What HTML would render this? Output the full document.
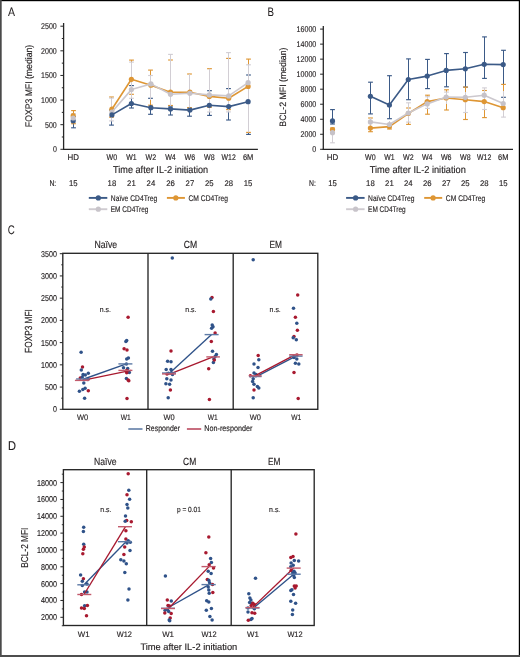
<!DOCTYPE html>
<html><head><meta charset="utf-8"><style>
html,body{margin:0;padding:0;background:#fff;}
svg{display:block;font-family:"Liberation Sans", sans-serif;will-change:transform;text-rendering:geometricPrecision;}
</style></head><body>
<svg width="520" height="657" viewBox="0 0 520 657">
<rect x="0" y="0" width="520" height="657" fill="#ffffff"/>
<text x="8.00" y="16.10" font-size="12.2" text-anchor="start" fill="#231f20" stroke="#231f20" stroke-width="0.05" textLength="7.0" lengthAdjust="spacingAndGlyphs">A</text>
<text x="267.60" y="15.90" font-size="12.4" text-anchor="start" fill="#231f20" stroke="#231f20" stroke-width="0.05" textLength="6.5" lengthAdjust="spacingAndGlyphs">B</text>
<text x="7.80" y="233.50" font-size="12.5" text-anchor="start" fill="#231f20" stroke="#231f20" stroke-width="0.05" textLength="7.0" lengthAdjust="spacingAndGlyphs">C</text>
<text x="8.00" y="449.70" font-size="12.6" text-anchor="start" fill="#231f20" stroke="#231f20" stroke-width="0.15" textLength="8.0" lengthAdjust="spacingAndGlyphs">D</text>
<line x1="73.50" y1="116.50" x2="73.50" y2="120.80" stroke="#3b5a87" stroke-width="1.05"/>
<line x1="71.10" y1="116.50" x2="75.90" y2="116.50" stroke="#3b5a87" stroke-width="1.15"/>
<line x1="73.50" y1="120.80" x2="73.50" y2="127.80" stroke="#3b5a87" stroke-width="1.05"/>
<line x1="71.10" y1="127.80" x2="75.90" y2="127.80" stroke="#3b5a87" stroke-width="1.15"/>
<line x1="111.50" y1="110.00" x2="111.50" y2="114.90" stroke="#3b5a87" stroke-width="1.05"/>
<line x1="109.10" y1="110.00" x2="113.90" y2="110.00" stroke="#3b5a87" stroke-width="1.15"/>
<line x1="111.50" y1="114.90" x2="111.50" y2="125.10" stroke="#3b5a87" stroke-width="1.05"/>
<line x1="109.10" y1="125.10" x2="113.90" y2="125.10" stroke="#3b5a87" stroke-width="1.15"/>
<line x1="131.50" y1="85.60" x2="131.50" y2="103.50" stroke="#3b5a87" stroke-width="1.05"/>
<line x1="129.10" y1="85.60" x2="133.90" y2="85.60" stroke="#3b5a87" stroke-width="1.15"/>
<line x1="131.50" y1="103.50" x2="131.50" y2="108.00" stroke="#3b5a87" stroke-width="1.05"/>
<line x1="129.10" y1="108.00" x2="133.90" y2="108.00" stroke="#3b5a87" stroke-width="1.15"/>
<line x1="150.50" y1="98.30" x2="150.50" y2="107.70" stroke="#3b5a87" stroke-width="1.05"/>
<line x1="148.10" y1="98.30" x2="152.90" y2="98.30" stroke="#3b5a87" stroke-width="1.15"/>
<line x1="150.50" y1="107.70" x2="150.50" y2="114.30" stroke="#3b5a87" stroke-width="1.05"/>
<line x1="148.10" y1="114.30" x2="152.90" y2="114.30" stroke="#3b5a87" stroke-width="1.15"/>
<line x1="170.50" y1="106.00" x2="170.50" y2="108.90" stroke="#3b5a87" stroke-width="1.05"/>
<line x1="168.10" y1="106.00" x2="172.90" y2="106.00" stroke="#3b5a87" stroke-width="1.15"/>
<line x1="170.50" y1="108.90" x2="170.50" y2="115.00" stroke="#3b5a87" stroke-width="1.05"/>
<line x1="168.10" y1="115.00" x2="172.90" y2="115.00" stroke="#3b5a87" stroke-width="1.15"/>
<line x1="189.50" y1="108.00" x2="189.50" y2="110.10" stroke="#3b5a87" stroke-width="1.05"/>
<line x1="187.10" y1="108.00" x2="191.90" y2="108.00" stroke="#3b5a87" stroke-width="1.15"/>
<line x1="189.50" y1="110.10" x2="189.50" y2="116.20" stroke="#3b5a87" stroke-width="1.05"/>
<line x1="187.10" y1="116.20" x2="191.90" y2="116.20" stroke="#3b5a87" stroke-width="1.15"/>
<line x1="209.50" y1="90.70" x2="209.50" y2="105.30" stroke="#3b5a87" stroke-width="1.05"/>
<line x1="207.10" y1="90.70" x2="211.90" y2="90.70" stroke="#3b5a87" stroke-width="1.15"/>
<line x1="209.50" y1="105.30" x2="209.50" y2="115.40" stroke="#3b5a87" stroke-width="1.05"/>
<line x1="207.10" y1="115.40" x2="211.90" y2="115.40" stroke="#3b5a87" stroke-width="1.15"/>
<line x1="228.50" y1="88.60" x2="228.50" y2="106.60" stroke="#3b5a87" stroke-width="1.05"/>
<line x1="226.10" y1="88.60" x2="230.90" y2="88.60" stroke="#3b5a87" stroke-width="1.15"/>
<line x1="228.50" y1="106.60" x2="228.50" y2="120.00" stroke="#3b5a87" stroke-width="1.05"/>
<line x1="226.10" y1="120.00" x2="230.90" y2="120.00" stroke="#3b5a87" stroke-width="1.15"/>
<line x1="248.50" y1="75.00" x2="248.50" y2="101.70" stroke="#3b5a87" stroke-width="1.05"/>
<line x1="246.10" y1="75.00" x2="250.90" y2="75.00" stroke="#3b5a87" stroke-width="1.15"/>
<line x1="248.50" y1="101.70" x2="248.50" y2="134.40" stroke="#3b5a87" stroke-width="1.05"/>
<line x1="246.10" y1="134.40" x2="250.90" y2="134.40" stroke="#3b5a87" stroke-width="1.15"/>
<line x1="73.50" y1="110.60" x2="73.50" y2="115.70" stroke="#de9634" stroke-width="1.05"/>
<line x1="71.10" y1="110.60" x2="75.90" y2="110.60" stroke="#de9634" stroke-width="1.15"/>
<line x1="73.50" y1="115.70" x2="73.50" y2="123.70" stroke="#de9634" stroke-width="1.05"/>
<line x1="71.10" y1="123.70" x2="75.90" y2="123.70" stroke="#de9634" stroke-width="1.15"/>
<line x1="111.50" y1="97.00" x2="111.50" y2="109.20" stroke="#de9634" stroke-width="1.05"/>
<line x1="109.10" y1="97.00" x2="113.90" y2="97.00" stroke="#de9634" stroke-width="1.15"/>
<line x1="111.50" y1="109.20" x2="111.50" y2="117.20" stroke="#de9634" stroke-width="1.05"/>
<line x1="109.10" y1="117.20" x2="113.90" y2="117.20" stroke="#de9634" stroke-width="1.15"/>
<line x1="131.50" y1="60.10" x2="131.50" y2="79.30" stroke="#de9634" stroke-width="1.05"/>
<line x1="129.10" y1="60.10" x2="133.90" y2="60.10" stroke="#de9634" stroke-width="1.15"/>
<line x1="131.50" y1="79.30" x2="131.50" y2="94.30" stroke="#de9634" stroke-width="1.05"/>
<line x1="129.10" y1="94.30" x2="133.90" y2="94.30" stroke="#de9634" stroke-width="1.15"/>
<line x1="150.50" y1="70.10" x2="150.50" y2="85.20" stroke="#de9634" stroke-width="1.05"/>
<line x1="148.10" y1="70.10" x2="152.90" y2="70.10" stroke="#de9634" stroke-width="1.15"/>
<line x1="150.50" y1="85.20" x2="150.50" y2="105.20" stroke="#de9634" stroke-width="1.05"/>
<line x1="148.10" y1="105.20" x2="152.90" y2="105.20" stroke="#de9634" stroke-width="1.15"/>
<line x1="170.50" y1="60.00" x2="170.50" y2="92.20" stroke="#de9634" stroke-width="1.05"/>
<line x1="168.10" y1="60.00" x2="172.90" y2="60.00" stroke="#de9634" stroke-width="1.15"/>
<line x1="170.50" y1="92.20" x2="170.50" y2="105.50" stroke="#de9634" stroke-width="1.05"/>
<line x1="168.10" y1="105.50" x2="172.90" y2="105.50" stroke="#de9634" stroke-width="1.15"/>
<line x1="189.50" y1="74.00" x2="189.50" y2="92.20" stroke="#de9634" stroke-width="1.05"/>
<line x1="187.10" y1="74.00" x2="191.90" y2="74.00" stroke="#de9634" stroke-width="1.15"/>
<line x1="189.50" y1="92.20" x2="189.50" y2="107.70" stroke="#de9634" stroke-width="1.05"/>
<line x1="187.10" y1="107.70" x2="191.90" y2="107.70" stroke="#de9634" stroke-width="1.15"/>
<line x1="209.50" y1="68.70" x2="209.50" y2="96.40" stroke="#de9634" stroke-width="1.05"/>
<line x1="207.10" y1="68.70" x2="211.90" y2="68.70" stroke="#de9634" stroke-width="1.15"/>
<line x1="209.50" y1="96.40" x2="209.50" y2="107.30" stroke="#de9634" stroke-width="1.05"/>
<line x1="207.10" y1="107.30" x2="211.90" y2="107.30" stroke="#de9634" stroke-width="1.15"/>
<line x1="228.50" y1="58.40" x2="228.50" y2="98.20" stroke="#de9634" stroke-width="1.05"/>
<line x1="226.10" y1="58.40" x2="230.90" y2="58.40" stroke="#de9634" stroke-width="1.15"/>
<line x1="228.50" y1="98.20" x2="228.50" y2="109.60" stroke="#de9634" stroke-width="1.05"/>
<line x1="226.10" y1="109.60" x2="230.90" y2="109.60" stroke="#de9634" stroke-width="1.15"/>
<line x1="248.50" y1="59.10" x2="248.50" y2="86.40" stroke="#de9634" stroke-width="1.05"/>
<line x1="246.10" y1="59.10" x2="250.90" y2="59.10" stroke="#de9634" stroke-width="1.15"/>
<line x1="248.50" y1="86.40" x2="248.50" y2="132.40" stroke="#de9634" stroke-width="1.05"/>
<line x1="246.10" y1="132.40" x2="250.90" y2="132.40" stroke="#de9634" stroke-width="1.15"/>
<line x1="73.50" y1="113.70" x2="73.50" y2="118.00" stroke="#d2ced4" stroke-width="1.05"/>
<line x1="71.10" y1="113.70" x2="75.90" y2="113.70" stroke="#d2ced4" stroke-width="1.15"/>
<line x1="73.50" y1="118.00" x2="73.50" y2="122.50" stroke="#d2ced4" stroke-width="1.05"/>
<line x1="71.10" y1="122.50" x2="75.90" y2="122.50" stroke="#d2ced4" stroke-width="1.15"/>
<line x1="111.50" y1="98.10" x2="111.50" y2="112.00" stroke="#d2ced4" stroke-width="1.05"/>
<line x1="109.10" y1="98.10" x2="113.90" y2="98.10" stroke="#d2ced4" stroke-width="1.15"/>
<line x1="111.50" y1="112.00" x2="111.50" y2="120.90" stroke="#d2ced4" stroke-width="1.05"/>
<line x1="109.10" y1="120.90" x2="113.90" y2="120.90" stroke="#d2ced4" stroke-width="1.15"/>
<line x1="131.50" y1="62.10" x2="131.50" y2="89.60" stroke="#d2ced4" stroke-width="1.05"/>
<line x1="129.10" y1="62.10" x2="133.90" y2="62.10" stroke="#d2ced4" stroke-width="1.15"/>
<line x1="131.50" y1="89.60" x2="131.50" y2="98.30" stroke="#d2ced4" stroke-width="1.05"/>
<line x1="129.10" y1="98.30" x2="133.90" y2="98.30" stroke="#d2ced4" stroke-width="1.15"/>
<line x1="150.50" y1="75.50" x2="150.50" y2="83.90" stroke="#d2ced4" stroke-width="1.05"/>
<line x1="148.10" y1="75.50" x2="152.90" y2="75.50" stroke="#d2ced4" stroke-width="1.15"/>
<line x1="150.50" y1="83.90" x2="150.50" y2="100.00" stroke="#d2ced4" stroke-width="1.05"/>
<line x1="170.50" y1="54.40" x2="170.50" y2="94.30" stroke="#d2ced4" stroke-width="1.05"/>
<line x1="168.10" y1="54.40" x2="172.90" y2="54.40" stroke="#d2ced4" stroke-width="1.15"/>
<line x1="170.50" y1="94.30" x2="170.50" y2="110.00" stroke="#d2ced4" stroke-width="1.05"/>
<line x1="189.50" y1="74.00" x2="189.50" y2="93.30" stroke="#d2ced4" stroke-width="1.05"/>
<line x1="189.50" y1="93.30" x2="189.50" y2="108.00" stroke="#d2ced4" stroke-width="1.05"/>
<line x1="209.50" y1="68.70" x2="209.50" y2="94.90" stroke="#d2ced4" stroke-width="1.05"/>
<line x1="209.50" y1="94.90" x2="209.50" y2="112.00" stroke="#d2ced4" stroke-width="1.05"/>
<line x1="207.10" y1="112.00" x2="211.90" y2="112.00" stroke="#d2ced4" stroke-width="1.15"/>
<line x1="228.50" y1="52.60" x2="228.50" y2="95.90" stroke="#d2ced4" stroke-width="1.05"/>
<line x1="226.10" y1="52.60" x2="230.90" y2="52.60" stroke="#d2ced4" stroke-width="1.15"/>
<line x1="228.50" y1="95.90" x2="228.50" y2="111.90" stroke="#d2ced4" stroke-width="1.05"/>
<line x1="226.10" y1="111.90" x2="230.90" y2="111.90" stroke="#d2ced4" stroke-width="1.15"/>
<line x1="248.50" y1="64.80" x2="248.50" y2="82.70" stroke="#d2ced4" stroke-width="1.05"/>
<line x1="246.10" y1="64.80" x2="250.90" y2="64.80" stroke="#d2ced4" stroke-width="1.15"/>
<line x1="248.50" y1="82.70" x2="248.50" y2="132.40" stroke="#d2ced4" stroke-width="1.05"/>
<circle cx="73.20" cy="120.80" r="2.6" fill="#3b5a87"/>
<circle cx="73.20" cy="115.70" r="2.6" fill="#de9634"/>
<circle cx="73.20" cy="118.00" r="2.6" fill="#c6c2c8"/>
<polyline points="111.90,109.20 131.40,79.30 150.90,85.20 170.50,92.20 189.90,92.20 209.30,96.40 228.70,98.20 248.10,86.40" fill="none" stroke="#de9634" stroke-width="1.6" stroke-linejoin="round"/>
<circle cx="111.90" cy="109.20" r="2.6" fill="#de9634"/>
<circle cx="131.40" cy="79.30" r="2.6" fill="#de9634"/>
<circle cx="150.90" cy="85.20" r="2.6" fill="#de9634"/>
<circle cx="170.50" cy="92.20" r="2.6" fill="#de9634"/>
<circle cx="189.90" cy="92.20" r="2.6" fill="#de9634"/>
<circle cx="209.30" cy="96.40" r="2.6" fill="#de9634"/>
<circle cx="228.70" cy="98.20" r="2.6" fill="#de9634"/>
<circle cx="248.10" cy="86.40" r="2.6" fill="#de9634"/>
<polyline points="111.90,112.00 131.40,89.60 150.90,83.90 170.50,94.30 189.90,93.30 209.30,94.90 228.70,95.90 248.10,82.70" fill="none" stroke="#ccc8ce" stroke-width="1.6" stroke-linejoin="round"/>
<circle cx="111.90" cy="112.00" r="2.6" fill="#c6c2c8"/>
<circle cx="131.40" cy="89.60" r="2.6" fill="#c6c2c8"/>
<circle cx="150.90" cy="83.90" r="2.6" fill="#c6c2c8"/>
<circle cx="170.50" cy="94.30" r="2.6" fill="#c6c2c8"/>
<circle cx="189.90" cy="93.30" r="2.6" fill="#c6c2c8"/>
<circle cx="209.30" cy="94.90" r="2.6" fill="#c6c2c8"/>
<circle cx="228.70" cy="95.90" r="2.6" fill="#c6c2c8"/>
<circle cx="248.10" cy="82.70" r="2.6" fill="#c6c2c8"/>
<polyline points="111.90,114.90 131.40,103.50 150.90,107.70 170.50,108.90 189.90,110.10 209.30,105.30 228.70,106.60 248.10,101.70" fill="none" stroke="#3b5a87" stroke-width="1.6" stroke-linejoin="round"/>
<circle cx="111.90" cy="114.90" r="2.6" fill="#3b5a87"/>
<circle cx="131.40" cy="103.50" r="2.6" fill="#3b5a87"/>
<circle cx="150.90" cy="107.70" r="2.6" fill="#3b5a87"/>
<circle cx="170.50" cy="108.90" r="2.6" fill="#3b5a87"/>
<circle cx="189.90" cy="110.10" r="2.6" fill="#3b5a87"/>
<circle cx="209.30" cy="105.30" r="2.6" fill="#3b5a87"/>
<circle cx="228.70" cy="106.60" r="2.6" fill="#3b5a87"/>
<circle cx="248.10" cy="101.70" r="2.6" fill="#3b5a87"/>
<line x1="63.60" y1="23.00" x2="63.60" y2="149.90" stroke="#262626" stroke-width="1.3"/>
<line x1="63.00" y1="149.30" x2="257.90" y2="149.30" stroke="#262626" stroke-width="1.3"/>
<line x1="60.40" y1="149.30" x2="63.60" y2="149.30" stroke="#262626" stroke-width="1.0"/>
<text x="56.80" y="152.30" font-size="8.4" text-anchor="end" fill="#231f20" stroke="#231f20" stroke-width="0.15" textLength="3.92" lengthAdjust="spacingAndGlyphs">0</text>
<line x1="60.40" y1="124.68" x2="63.60" y2="124.68" stroke="#262626" stroke-width="1.0"/>
<text x="56.80" y="127.68" font-size="8.4" text-anchor="end" fill="#231f20" stroke="#231f20" stroke-width="0.15" textLength="11.76" lengthAdjust="spacingAndGlyphs">500</text>
<line x1="60.40" y1="100.06" x2="63.60" y2="100.06" stroke="#262626" stroke-width="1.0"/>
<text x="56.80" y="103.06" font-size="8.4" text-anchor="end" fill="#231f20" stroke="#231f20" stroke-width="0.15" textLength="15.68" lengthAdjust="spacingAndGlyphs">1000</text>
<line x1="60.40" y1="75.44" x2="63.60" y2="75.44" stroke="#262626" stroke-width="1.0"/>
<text x="56.80" y="78.44" font-size="8.4" text-anchor="end" fill="#231f20" stroke="#231f20" stroke-width="0.15" textLength="15.68" lengthAdjust="spacingAndGlyphs">1500</text>
<line x1="60.40" y1="50.82" x2="63.60" y2="50.82" stroke="#262626" stroke-width="1.0"/>
<text x="56.80" y="53.82" font-size="8.4" text-anchor="end" fill="#231f20" stroke="#231f20" stroke-width="0.15" textLength="15.68" lengthAdjust="spacingAndGlyphs">2000</text>
<line x1="60.40" y1="26.20" x2="63.60" y2="26.20" stroke="#262626" stroke-width="1.0"/>
<text x="56.80" y="29.20" font-size="8.4" text-anchor="end" fill="#231f20" stroke="#231f20" stroke-width="0.15" textLength="15.68" lengthAdjust="spacingAndGlyphs">2500</text>
<line x1="61.80" y1="136.99" x2="63.60" y2="136.99" stroke="#262626" stroke-width="1.0"/>
<line x1="61.80" y1="112.37" x2="63.60" y2="112.37" stroke="#262626" stroke-width="1.0"/>
<line x1="61.80" y1="87.75" x2="63.60" y2="87.75" stroke="#262626" stroke-width="1.0"/>
<line x1="61.80" y1="63.13" x2="63.60" y2="63.13" stroke="#262626" stroke-width="1.0"/>
<line x1="61.80" y1="38.51" x2="63.60" y2="38.51" stroke="#262626" stroke-width="1.0"/>
<text x="73.20" y="159.70" font-size="8.2" text-anchor="middle" fill="#231f20" stroke="#231f20" stroke-width="0.15" textLength="11.4" lengthAdjust="spacingAndGlyphs">HD</text>
<text x="111.90" y="159.70" font-size="8.2" text-anchor="middle" fill="#231f20" stroke="#231f20" stroke-width="0.15" textLength="10.6" lengthAdjust="spacingAndGlyphs">W0</text>
<text x="131.40" y="159.70" font-size="8.2" text-anchor="middle" fill="#231f20" stroke="#231f20" stroke-width="0.15" textLength="10.4" lengthAdjust="spacingAndGlyphs">W1</text>
<text x="150.90" y="159.70" font-size="8.2" text-anchor="middle" fill="#231f20" stroke="#231f20" stroke-width="0.15" textLength="10.6" lengthAdjust="spacingAndGlyphs">W2</text>
<text x="170.50" y="159.70" font-size="8.2" text-anchor="middle" fill="#231f20" stroke="#231f20" stroke-width="0.15" textLength="10.6" lengthAdjust="spacingAndGlyphs">W4</text>
<text x="189.90" y="159.70" font-size="8.2" text-anchor="middle" fill="#231f20" stroke="#231f20" stroke-width="0.15" textLength="10.6" lengthAdjust="spacingAndGlyphs">W6</text>
<text x="209.30" y="159.70" font-size="8.2" text-anchor="middle" fill="#231f20" stroke="#231f20" stroke-width="0.15" textLength="10.6" lengthAdjust="spacingAndGlyphs">W8</text>
<text x="228.70" y="159.70" font-size="8.2" text-anchor="middle" fill="#231f20" stroke="#231f20" stroke-width="0.15" textLength="14.2" lengthAdjust="spacingAndGlyphs">W12</text>
<text x="248.10" y="159.70" font-size="8.2" text-anchor="middle" fill="#231f20" stroke="#231f20" stroke-width="0.15" textLength="10.4" lengthAdjust="spacingAndGlyphs">6M</text>
<text x="113.00" y="172.90" font-size="10.0" text-anchor="start" fill="#231f20" stroke="#231f20" stroke-width="0.15" textLength="95.2" lengthAdjust="spacingAndGlyphs">Time after IL-2 initiation</text>
<text x="49.40" y="185.70" font-size="8.2" text-anchor="start" fill="#231f20" stroke="#231f20" stroke-width="0.15" textLength="6.8" lengthAdjust="spacingAndGlyphs">N:</text>
<text x="73.20" y="185.70" font-size="8.2" text-anchor="middle" fill="#231f20" stroke="#231f20" stroke-width="0.15" textLength="8.6" lengthAdjust="spacingAndGlyphs">15</text>
<text x="111.90" y="185.70" font-size="8.2" text-anchor="middle" fill="#231f20" stroke="#231f20" stroke-width="0.15" textLength="8.6" lengthAdjust="spacingAndGlyphs">18</text>
<text x="131.40" y="185.70" font-size="8.2" text-anchor="middle" fill="#231f20" stroke="#231f20" stroke-width="0.15" textLength="8.6" lengthAdjust="spacingAndGlyphs">21</text>
<text x="150.90" y="185.70" font-size="8.2" text-anchor="middle" fill="#231f20" stroke="#231f20" stroke-width="0.15" textLength="8.6" lengthAdjust="spacingAndGlyphs">24</text>
<text x="170.50" y="185.70" font-size="8.2" text-anchor="middle" fill="#231f20" stroke="#231f20" stroke-width="0.15" textLength="8.6" lengthAdjust="spacingAndGlyphs">26</text>
<text x="189.90" y="185.70" font-size="8.2" text-anchor="middle" fill="#231f20" stroke="#231f20" stroke-width="0.15" textLength="8.6" lengthAdjust="spacingAndGlyphs">27</text>
<text x="209.30" y="185.70" font-size="8.2" text-anchor="middle" fill="#231f20" stroke="#231f20" stroke-width="0.15" textLength="8.6" lengthAdjust="spacingAndGlyphs">25</text>
<text x="228.70" y="185.70" font-size="8.2" text-anchor="middle" fill="#231f20" stroke="#231f20" stroke-width="0.15" textLength="8.6" lengthAdjust="spacingAndGlyphs">28</text>
<text x="248.10" y="185.70" font-size="8.2" text-anchor="middle" fill="#231f20" stroke="#231f20" stroke-width="0.15" textLength="8.6" lengthAdjust="spacingAndGlyphs">15</text>
<text x="0" y="0" font-size="9.6" stroke="#231f20" stroke-width="0.15" text-anchor="middle" fill="#231f20" textLength="82.3" lengthAdjust="spacingAndGlyphs" transform="translate(32.20,86.00) rotate(-90)">FOXP3 MFI (median)</text>
<line x1="88.80" y1="197.90" x2="107.30" y2="197.90" stroke="#3b5a87" stroke-width="1.9"/>
<circle cx="98.30" cy="197.90" r="2.6" fill="#3b5a87"/>
<text x="110.80" y="200.60" font-size="8.1" text-anchor="start" fill="#231f20" stroke="#231f20" stroke-width="0.15" textLength="46.4" lengthAdjust="spacingAndGlyphs">Naïve CD4Treg</text>
<line x1="166.90" y1="197.90" x2="184.90" y2="197.90" stroke="#de9634" stroke-width="1.9"/>
<circle cx="175.80" cy="197.90" r="2.6" fill="#de9634"/>
<text x="188.50" y="200.60" font-size="8.1" text-anchor="start" fill="#231f20" stroke="#231f20" stroke-width="0.15" textLength="39.4" lengthAdjust="spacingAndGlyphs">CM CD4Treg</text>
<line x1="88.80" y1="209.20" x2="107.30" y2="209.20" stroke="#cfcbd0" stroke-width="1.9"/>
<circle cx="98.30" cy="209.20" r="2.6" fill="#c8c4ca"/>
<text x="110.80" y="212.20" font-size="8.1" text-anchor="start" fill="#231f20" stroke="#231f20" stroke-width="0.15" textLength="37.6" lengthAdjust="spacingAndGlyphs">EM CD4Treg</text>
<line x1="332.50" y1="109.60" x2="332.50" y2="120.90" stroke="#3b5a87" stroke-width="1.05"/>
<line x1="330.10" y1="109.60" x2="334.90" y2="109.60" stroke="#3b5a87" stroke-width="1.15"/>
<line x1="332.50" y1="120.90" x2="332.50" y2="124.00" stroke="#3b5a87" stroke-width="1.05"/>
<line x1="330.10" y1="124.00" x2="334.90" y2="124.00" stroke="#3b5a87" stroke-width="1.15"/>
<line x1="370.50" y1="82.20" x2="370.50" y2="96.30" stroke="#3b5a87" stroke-width="1.05"/>
<line x1="368.10" y1="82.20" x2="372.90" y2="82.20" stroke="#3b5a87" stroke-width="1.15"/>
<line x1="370.50" y1="96.30" x2="370.50" y2="113.90" stroke="#3b5a87" stroke-width="1.05"/>
<line x1="368.10" y1="113.90" x2="372.90" y2="113.90" stroke="#3b5a87" stroke-width="1.15"/>
<line x1="389.50" y1="75.70" x2="389.50" y2="105.00" stroke="#3b5a87" stroke-width="1.05"/>
<line x1="387.10" y1="75.70" x2="391.90" y2="75.70" stroke="#3b5a87" stroke-width="1.15"/>
<line x1="389.50" y1="105.00" x2="389.50" y2="118.70" stroke="#3b5a87" stroke-width="1.05"/>
<line x1="387.10" y1="118.70" x2="391.90" y2="118.70" stroke="#3b5a87" stroke-width="1.15"/>
<line x1="408.50" y1="58.90" x2="408.50" y2="79.50" stroke="#3b5a87" stroke-width="1.05"/>
<line x1="406.10" y1="58.90" x2="410.90" y2="58.90" stroke="#3b5a87" stroke-width="1.15"/>
<line x1="408.50" y1="79.50" x2="408.50" y2="99.70" stroke="#3b5a87" stroke-width="1.05"/>
<line x1="406.10" y1="99.70" x2="410.90" y2="99.70" stroke="#3b5a87" stroke-width="1.15"/>
<line x1="427.50" y1="59.40" x2="427.50" y2="76.10" stroke="#3b5a87" stroke-width="1.05"/>
<line x1="425.10" y1="59.40" x2="429.90" y2="59.40" stroke="#3b5a87" stroke-width="1.15"/>
<line x1="427.50" y1="76.10" x2="427.50" y2="88.60" stroke="#3b5a87" stroke-width="1.05"/>
<line x1="425.10" y1="88.60" x2="429.90" y2="88.60" stroke="#3b5a87" stroke-width="1.15"/>
<line x1="446.50" y1="53.60" x2="446.50" y2="70.40" stroke="#3b5a87" stroke-width="1.05"/>
<line x1="444.10" y1="53.60" x2="448.90" y2="53.60" stroke="#3b5a87" stroke-width="1.15"/>
<line x1="446.50" y1="70.40" x2="446.50" y2="86.80" stroke="#3b5a87" stroke-width="1.05"/>
<line x1="444.10" y1="86.80" x2="448.90" y2="86.80" stroke="#3b5a87" stroke-width="1.15"/>
<line x1="465.50" y1="52.50" x2="465.50" y2="68.80" stroke="#3b5a87" stroke-width="1.05"/>
<line x1="463.10" y1="52.50" x2="467.90" y2="52.50" stroke="#3b5a87" stroke-width="1.15"/>
<line x1="465.50" y1="68.80" x2="465.50" y2="87.10" stroke="#3b5a87" stroke-width="1.05"/>
<line x1="463.10" y1="87.10" x2="467.90" y2="87.10" stroke="#3b5a87" stroke-width="1.15"/>
<line x1="484.50" y1="36.90" x2="484.50" y2="64.30" stroke="#3b5a87" stroke-width="1.05"/>
<line x1="482.10" y1="36.90" x2="486.90" y2="36.90" stroke="#3b5a87" stroke-width="1.15"/>
<line x1="484.50" y1="64.30" x2="484.50" y2="78.40" stroke="#3b5a87" stroke-width="1.05"/>
<line x1="482.10" y1="78.40" x2="486.90" y2="78.40" stroke="#3b5a87" stroke-width="1.15"/>
<line x1="503.50" y1="50.30" x2="503.50" y2="64.60" stroke="#3b5a87" stroke-width="1.05"/>
<line x1="501.10" y1="50.30" x2="505.90" y2="50.30" stroke="#3b5a87" stroke-width="1.15"/>
<line x1="503.50" y1="64.60" x2="503.50" y2="97.30" stroke="#3b5a87" stroke-width="1.05"/>
<line x1="501.10" y1="97.30" x2="505.90" y2="97.30" stroke="#3b5a87" stroke-width="1.15"/>
<line x1="332.50" y1="128.00" x2="332.50" y2="129.50" stroke="#de9634" stroke-width="1.05"/>
<line x1="330.10" y1="128.00" x2="334.90" y2="128.00" stroke="#de9634" stroke-width="1.15"/>
<line x1="332.50" y1="129.50" x2="332.50" y2="133.00" stroke="#de9634" stroke-width="1.05"/>
<line x1="330.10" y1="133.00" x2="334.90" y2="133.00" stroke="#de9634" stroke-width="1.15"/>
<line x1="370.50" y1="118.00" x2="370.50" y2="128.10" stroke="#de9634" stroke-width="1.05"/>
<line x1="368.10" y1="118.00" x2="372.90" y2="118.00" stroke="#de9634" stroke-width="1.15"/>
<line x1="370.50" y1="128.10" x2="370.50" y2="131.70" stroke="#de9634" stroke-width="1.05"/>
<line x1="368.10" y1="131.70" x2="372.90" y2="131.70" stroke="#de9634" stroke-width="1.15"/>
<line x1="389.50" y1="124.50" x2="389.50" y2="126.60" stroke="#de9634" stroke-width="1.05"/>
<line x1="387.10" y1="124.50" x2="391.90" y2="124.50" stroke="#de9634" stroke-width="1.15"/>
<line x1="389.50" y1="126.60" x2="389.50" y2="129.00" stroke="#de9634" stroke-width="1.05"/>
<line x1="387.10" y1="129.00" x2="391.90" y2="129.00" stroke="#de9634" stroke-width="1.15"/>
<line x1="408.50" y1="108.00" x2="408.50" y2="113.50" stroke="#de9634" stroke-width="1.05"/>
<line x1="406.10" y1="108.00" x2="410.90" y2="108.00" stroke="#de9634" stroke-width="1.15"/>
<line x1="408.50" y1="113.50" x2="408.50" y2="124.40" stroke="#de9634" stroke-width="1.05"/>
<line x1="406.10" y1="124.40" x2="410.90" y2="124.40" stroke="#de9634" stroke-width="1.15"/>
<line x1="427.50" y1="95.20" x2="427.50" y2="101.60" stroke="#de9634" stroke-width="1.05"/>
<line x1="425.10" y1="95.20" x2="429.90" y2="95.20" stroke="#de9634" stroke-width="1.15"/>
<line x1="427.50" y1="101.60" x2="427.50" y2="114.20" stroke="#de9634" stroke-width="1.05"/>
<line x1="425.10" y1="114.20" x2="429.90" y2="114.20" stroke="#de9634" stroke-width="1.15"/>
<line x1="446.50" y1="89.80" x2="446.50" y2="98.00" stroke="#de9634" stroke-width="1.05"/>
<line x1="444.10" y1="89.80" x2="448.90" y2="89.80" stroke="#de9634" stroke-width="1.15"/>
<line x1="446.50" y1="98.00" x2="446.50" y2="110.00" stroke="#de9634" stroke-width="1.05"/>
<line x1="444.10" y1="110.00" x2="448.90" y2="110.00" stroke="#de9634" stroke-width="1.15"/>
<line x1="465.50" y1="87.10" x2="465.50" y2="99.70" stroke="#de9634" stroke-width="1.05"/>
<line x1="463.10" y1="87.10" x2="467.90" y2="87.10" stroke="#de9634" stroke-width="1.15"/>
<line x1="465.50" y1="99.70" x2="465.50" y2="119.50" stroke="#de9634" stroke-width="1.05"/>
<line x1="463.10" y1="119.50" x2="467.90" y2="119.50" stroke="#de9634" stroke-width="1.15"/>
<line x1="484.50" y1="90.50" x2="484.50" y2="101.60" stroke="#de9634" stroke-width="1.05"/>
<line x1="482.10" y1="90.50" x2="486.90" y2="90.50" stroke="#de9634" stroke-width="1.15"/>
<line x1="484.50" y1="101.60" x2="484.50" y2="117.60" stroke="#de9634" stroke-width="1.05"/>
<line x1="482.10" y1="117.60" x2="486.90" y2="117.60" stroke="#de9634" stroke-width="1.15"/>
<line x1="503.50" y1="84.40" x2="503.50" y2="107.70" stroke="#de9634" stroke-width="1.05"/>
<line x1="501.10" y1="84.40" x2="505.90" y2="84.40" stroke="#de9634" stroke-width="1.15"/>
<line x1="503.50" y1="107.70" x2="503.50" y2="110.00" stroke="#de9634" stroke-width="1.05"/>
<line x1="332.50" y1="130.00" x2="332.50" y2="132.70" stroke="#d2ced4" stroke-width="1.05"/>
<line x1="332.50" y1="132.70" x2="332.50" y2="142.80" stroke="#d2ced4" stroke-width="1.05"/>
<line x1="330.10" y1="142.80" x2="334.90" y2="142.80" stroke="#d2ced4" stroke-width="1.15"/>
<line x1="370.50" y1="118.00" x2="370.50" y2="121.90" stroke="#d2ced4" stroke-width="1.05"/>
<line x1="370.50" y1="121.90" x2="370.50" y2="128.00" stroke="#d2ced4" stroke-width="1.05"/>
<line x1="389.50" y1="121.00" x2="389.50" y2="124.50" stroke="#d2ced4" stroke-width="1.05"/>
<line x1="389.50" y1="124.50" x2="389.50" y2="128.00" stroke="#d2ced4" stroke-width="1.05"/>
<line x1="408.50" y1="102.80" x2="408.50" y2="113.00" stroke="#d2ced4" stroke-width="1.05"/>
<line x1="406.10" y1="102.80" x2="410.90" y2="102.80" stroke="#d2ced4" stroke-width="1.15"/>
<line x1="408.50" y1="113.00" x2="408.50" y2="122.10" stroke="#d2ced4" stroke-width="1.05"/>
<line x1="406.10" y1="122.10" x2="410.90" y2="122.10" stroke="#d2ced4" stroke-width="1.15"/>
<line x1="427.50" y1="96.70" x2="427.50" y2="103.90" stroke="#d2ced4" stroke-width="1.05"/>
<line x1="425.10" y1="96.70" x2="429.90" y2="96.70" stroke="#d2ced4" stroke-width="1.15"/>
<line x1="427.50" y1="103.90" x2="427.50" y2="108.40" stroke="#d2ced4" stroke-width="1.05"/>
<line x1="425.10" y1="108.40" x2="429.90" y2="108.40" stroke="#d2ced4" stroke-width="1.15"/>
<line x1="446.50" y1="92.10" x2="446.50" y2="97.00" stroke="#d2ced4" stroke-width="1.05"/>
<line x1="444.10" y1="92.10" x2="448.90" y2="92.10" stroke="#d2ced4" stroke-width="1.15"/>
<line x1="446.50" y1="97.00" x2="446.50" y2="104.00" stroke="#d2ced4" stroke-width="1.05"/>
<line x1="465.50" y1="92.00" x2="465.50" y2="97.30" stroke="#d2ced4" stroke-width="1.05"/>
<line x1="465.50" y1="97.30" x2="465.50" y2="112.50" stroke="#d2ced4" stroke-width="1.05"/>
<line x1="463.10" y1="112.50" x2="467.90" y2="112.50" stroke="#d2ced4" stroke-width="1.15"/>
<line x1="484.50" y1="87.90" x2="484.50" y2="95.20" stroke="#d2ced4" stroke-width="1.05"/>
<line x1="482.10" y1="87.90" x2="486.90" y2="87.90" stroke="#d2ced4" stroke-width="1.15"/>
<line x1="484.50" y1="95.20" x2="484.50" y2="109.50" stroke="#d2ced4" stroke-width="1.05"/>
<line x1="482.10" y1="109.50" x2="486.90" y2="109.50" stroke="#d2ced4" stroke-width="1.15"/>
<line x1="503.50" y1="91.00" x2="503.50" y2="103.50" stroke="#d2ced4" stroke-width="1.05"/>
<line x1="503.50" y1="103.50" x2="503.50" y2="117.10" stroke="#d2ced4" stroke-width="1.05"/>
<line x1="501.10" y1="117.10" x2="505.90" y2="117.10" stroke="#d2ced4" stroke-width="1.15"/>
<circle cx="332.50" cy="120.90" r="2.6" fill="#3b5a87"/>
<circle cx="332.50" cy="129.50" r="2.6" fill="#de9634"/>
<circle cx="332.50" cy="132.70" r="2.6" fill="#c6c2c8"/>
<polyline points="370.40,128.10 389.40,126.60 408.30,113.50 427.20,101.60 446.20,98.00 465.30,99.70 484.20,101.60 503.20,107.70" fill="none" stroke="#de9634" stroke-width="1.6" stroke-linejoin="round"/>
<circle cx="370.40" cy="128.10" r="2.6" fill="#de9634"/>
<circle cx="389.40" cy="126.60" r="2.6" fill="#de9634"/>
<circle cx="408.30" cy="113.50" r="2.6" fill="#de9634"/>
<circle cx="427.20" cy="101.60" r="2.6" fill="#de9634"/>
<circle cx="446.20" cy="98.00" r="2.6" fill="#de9634"/>
<circle cx="465.30" cy="99.70" r="2.6" fill="#de9634"/>
<circle cx="484.20" cy="101.60" r="2.6" fill="#de9634"/>
<circle cx="503.20" cy="107.70" r="2.6" fill="#de9634"/>
<polyline points="370.40,121.90 389.40,124.50 408.30,113.00 427.20,103.90 446.20,97.00 465.30,97.30 484.20,95.20 503.20,103.50" fill="none" stroke="#ccc8ce" stroke-width="1.6" stroke-linejoin="round"/>
<circle cx="370.40" cy="121.90" r="2.6" fill="#c6c2c8"/>
<circle cx="389.40" cy="124.50" r="2.6" fill="#c6c2c8"/>
<circle cx="408.30" cy="113.00" r="2.6" fill="#c6c2c8"/>
<circle cx="427.20" cy="103.90" r="2.6" fill="#c6c2c8"/>
<circle cx="446.20" cy="97.00" r="2.6" fill="#c6c2c8"/>
<circle cx="465.30" cy="97.30" r="2.6" fill="#c6c2c8"/>
<circle cx="484.20" cy="95.20" r="2.6" fill="#c6c2c8"/>
<circle cx="503.20" cy="103.50" r="2.6" fill="#c6c2c8"/>
<polyline points="370.40,96.30 389.40,105.00 408.30,79.50 427.20,76.10 446.20,70.40 465.30,68.80 484.20,64.30 503.20,64.60" fill="none" stroke="#3b5a87" stroke-width="1.6" stroke-linejoin="round"/>
<circle cx="370.40" cy="96.30" r="2.6" fill="#3b5a87"/>
<circle cx="389.40" cy="105.00" r="2.6" fill="#3b5a87"/>
<circle cx="408.30" cy="79.50" r="2.6" fill="#3b5a87"/>
<circle cx="427.20" cy="76.10" r="2.6" fill="#3b5a87"/>
<circle cx="446.20" cy="70.40" r="2.6" fill="#3b5a87"/>
<circle cx="465.30" cy="68.80" r="2.6" fill="#3b5a87"/>
<circle cx="484.20" cy="64.30" r="2.6" fill="#3b5a87"/>
<circle cx="503.20" cy="64.60" r="2.6" fill="#3b5a87"/>
<line x1="323.30" y1="26.00" x2="323.30" y2="149.90" stroke="#262626" stroke-width="1.3"/>
<line x1="322.70" y1="149.30" x2="513.00" y2="149.30" stroke="#262626" stroke-width="1.3"/>
<line x1="320.10" y1="149.30" x2="323.30" y2="149.30" stroke="#262626" stroke-width="1.0"/>
<text x="316.30" y="152.30" font-size="8.4" text-anchor="end" fill="#231f20" stroke="#231f20" stroke-width="0.15" textLength="3.95" lengthAdjust="spacingAndGlyphs">0</text>
<line x1="320.10" y1="134.28" x2="323.30" y2="134.28" stroke="#262626" stroke-width="1.0"/>
<text x="316.30" y="137.28" font-size="8.4" text-anchor="end" fill="#231f20" stroke="#231f20" stroke-width="0.15" textLength="15.8" lengthAdjust="spacingAndGlyphs">2000</text>
<line x1="320.10" y1="119.25" x2="323.30" y2="119.25" stroke="#262626" stroke-width="1.0"/>
<text x="316.30" y="122.25" font-size="8.4" text-anchor="end" fill="#231f20" stroke="#231f20" stroke-width="0.15" textLength="15.8" lengthAdjust="spacingAndGlyphs">4000</text>
<line x1="320.10" y1="104.23" x2="323.30" y2="104.23" stroke="#262626" stroke-width="1.0"/>
<text x="316.30" y="107.23" font-size="8.4" text-anchor="end" fill="#231f20" stroke="#231f20" stroke-width="0.15" textLength="15.8" lengthAdjust="spacingAndGlyphs">6000</text>
<line x1="320.10" y1="89.20" x2="323.30" y2="89.20" stroke="#262626" stroke-width="1.0"/>
<text x="316.30" y="92.20" font-size="8.4" text-anchor="end" fill="#231f20" stroke="#231f20" stroke-width="0.15" textLength="15.8" lengthAdjust="spacingAndGlyphs">8000</text>
<line x1="320.10" y1="74.18" x2="323.30" y2="74.18" stroke="#262626" stroke-width="1.0"/>
<text x="316.30" y="77.18" font-size="8.4" text-anchor="end" fill="#231f20" stroke="#231f20" stroke-width="0.15" textLength="19.75" lengthAdjust="spacingAndGlyphs">10000</text>
<line x1="320.10" y1="59.15" x2="323.30" y2="59.15" stroke="#262626" stroke-width="1.0"/>
<text x="316.30" y="62.15" font-size="8.4" text-anchor="end" fill="#231f20" stroke="#231f20" stroke-width="0.15" textLength="19.75" lengthAdjust="spacingAndGlyphs">12000</text>
<line x1="320.10" y1="44.13" x2="323.30" y2="44.13" stroke="#262626" stroke-width="1.0"/>
<text x="316.30" y="47.13" font-size="8.4" text-anchor="end" fill="#231f20" stroke="#231f20" stroke-width="0.15" textLength="19.75" lengthAdjust="spacingAndGlyphs">14000</text>
<line x1="320.10" y1="29.10" x2="323.30" y2="29.10" stroke="#262626" stroke-width="1.0"/>
<text x="316.30" y="32.10" font-size="8.4" text-anchor="end" fill="#231f20" stroke="#231f20" stroke-width="0.15" textLength="19.75" lengthAdjust="spacingAndGlyphs">16000</text>
<text x="332.50" y="159.70" font-size="8.2" text-anchor="middle" fill="#231f20" stroke="#231f20" stroke-width="0.15" textLength="11.4" lengthAdjust="spacingAndGlyphs">HD</text>
<text x="370.40" y="159.70" font-size="8.2" text-anchor="middle" fill="#231f20" stroke="#231f20" stroke-width="0.15" textLength="10.6" lengthAdjust="spacingAndGlyphs">W0</text>
<text x="389.40" y="159.70" font-size="8.2" text-anchor="middle" fill="#231f20" stroke="#231f20" stroke-width="0.15" textLength="10.4" lengthAdjust="spacingAndGlyphs">W1</text>
<text x="408.30" y="159.70" font-size="8.2" text-anchor="middle" fill="#231f20" stroke="#231f20" stroke-width="0.15" textLength="10.6" lengthAdjust="spacingAndGlyphs">W2</text>
<text x="427.20" y="159.70" font-size="8.2" text-anchor="middle" fill="#231f20" stroke="#231f20" stroke-width="0.15" textLength="10.6" lengthAdjust="spacingAndGlyphs">W4</text>
<text x="446.20" y="159.70" font-size="8.2" text-anchor="middle" fill="#231f20" stroke="#231f20" stroke-width="0.15" textLength="10.6" lengthAdjust="spacingAndGlyphs">W6</text>
<text x="465.30" y="159.70" font-size="8.2" text-anchor="middle" fill="#231f20" stroke="#231f20" stroke-width="0.15" textLength="10.6" lengthAdjust="spacingAndGlyphs">W8</text>
<text x="484.20" y="159.70" font-size="8.2" text-anchor="middle" fill="#231f20" stroke="#231f20" stroke-width="0.15" textLength="14.2" lengthAdjust="spacingAndGlyphs">W12</text>
<text x="503.20" y="159.70" font-size="8.2" text-anchor="middle" fill="#231f20" stroke="#231f20" stroke-width="0.15" textLength="10.4" lengthAdjust="spacingAndGlyphs">6M</text>
<text x="369.70" y="172.90" font-size="10.0" text-anchor="start" fill="#231f20" stroke="#231f20" stroke-width="0.15" textLength="96.1" lengthAdjust="spacingAndGlyphs">Time after IL-2 initiation</text>
<text x="309.10" y="185.70" font-size="8.2" text-anchor="start" fill="#231f20" stroke="#231f20" stroke-width="0.15" textLength="6.8" lengthAdjust="spacingAndGlyphs">N:</text>
<text x="332.50" y="185.70" font-size="8.2" text-anchor="middle" fill="#231f20" stroke="#231f20" stroke-width="0.15" textLength="8.6" lengthAdjust="spacingAndGlyphs">15</text>
<text x="370.40" y="185.70" font-size="8.2" text-anchor="middle" fill="#231f20" stroke="#231f20" stroke-width="0.15" textLength="8.6" lengthAdjust="spacingAndGlyphs">18</text>
<text x="389.40" y="185.70" font-size="8.2" text-anchor="middle" fill="#231f20" stroke="#231f20" stroke-width="0.15" textLength="8.6" lengthAdjust="spacingAndGlyphs">21</text>
<text x="408.30" y="185.70" font-size="8.2" text-anchor="middle" fill="#231f20" stroke="#231f20" stroke-width="0.15" textLength="8.6" lengthAdjust="spacingAndGlyphs">24</text>
<text x="427.20" y="185.70" font-size="8.2" text-anchor="middle" fill="#231f20" stroke="#231f20" stroke-width="0.15" textLength="8.6" lengthAdjust="spacingAndGlyphs">26</text>
<text x="446.20" y="185.70" font-size="8.2" text-anchor="middle" fill="#231f20" stroke="#231f20" stroke-width="0.15" textLength="8.6" lengthAdjust="spacingAndGlyphs">27</text>
<text x="465.30" y="185.70" font-size="8.2" text-anchor="middle" fill="#231f20" stroke="#231f20" stroke-width="0.15" textLength="8.6" lengthAdjust="spacingAndGlyphs">25</text>
<text x="484.20" y="185.70" font-size="8.2" text-anchor="middle" fill="#231f20" stroke="#231f20" stroke-width="0.15" textLength="8.6" lengthAdjust="spacingAndGlyphs">28</text>
<text x="503.20" y="185.70" font-size="8.2" text-anchor="middle" fill="#231f20" stroke="#231f20" stroke-width="0.15" textLength="8.6" lengthAdjust="spacingAndGlyphs">15</text>
<text x="0" y="0" font-size="9.3" stroke="#231f20" stroke-width="0.15" text-anchor="middle" fill="#231f20" textLength="79.2" lengthAdjust="spacingAndGlyphs" transform="translate(286.20,87.10) rotate(-90)">BCL-2 MFI (median)</text>
<line x1="346.10" y1="197.90" x2="364.60" y2="197.90" stroke="#3b5a87" stroke-width="1.9"/>
<circle cx="355.60" cy="197.90" r="2.6" fill="#3b5a87"/>
<text x="368.10" y="200.60" font-size="8.1" text-anchor="start" fill="#231f20" stroke="#231f20" stroke-width="0.15" textLength="46.4" lengthAdjust="spacingAndGlyphs">Naïve CD4Treg</text>
<line x1="424.20" y1="197.90" x2="442.20" y2="197.90" stroke="#de9634" stroke-width="1.9"/>
<circle cx="433.10" cy="197.90" r="2.6" fill="#de9634"/>
<text x="445.80" y="200.60" font-size="8.1" text-anchor="start" fill="#231f20" stroke="#231f20" stroke-width="0.15" textLength="39.4" lengthAdjust="spacingAndGlyphs">CM CD4Treg</text>
<line x1="346.10" y1="209.20" x2="364.60" y2="209.20" stroke="#cfcbd0" stroke-width="1.9"/>
<circle cx="355.60" cy="209.20" r="2.6" fill="#c8c4ca"/>
<text x="368.10" y="212.20" font-size="8.1" text-anchor="start" fill="#231f20" stroke="#231f20" stroke-width="0.15" textLength="37.6" lengthAdjust="spacingAndGlyphs">EM CD4Treg</text>
<text x="105.80" y="247.80" font-size="10.3" text-anchor="middle" fill="#231f20" stroke="#231f20" stroke-width="0.15" textLength="22.8" lengthAdjust="spacingAndGlyphs">Naïve</text>
<text x="190.50" y="247.80" font-size="10.3" text-anchor="middle" fill="#231f20" stroke="#231f20" stroke-width="0.15" textLength="13.4" lengthAdjust="spacingAndGlyphs">CM</text>
<text x="275.70" y="247.80" font-size="10.3" text-anchor="middle" fill="#231f20" stroke="#231f20" stroke-width="0.15" textLength="12.5" lengthAdjust="spacingAndGlyphs">EM</text>
<text x="105.40" y="312.00" font-size="7.4" text-anchor="middle" fill="#231f20" stroke="#231f20" stroke-width="0.15" textLength="11.2" lengthAdjust="spacingAndGlyphs">n.s.</text>
<text x="190.90" y="312.00" font-size="7.4" text-anchor="middle" fill="#231f20" stroke="#231f20" stroke-width="0.15" textLength="11.2" lengthAdjust="spacingAndGlyphs">n.s.</text>
<text x="275.20" y="312.00" font-size="7.4" text-anchor="middle" fill="#231f20" stroke="#231f20" stroke-width="0.15" textLength="11.2" lengthAdjust="spacingAndGlyphs">n.s.</text>
<text x="82.60" y="419.90" font-size="8.0" text-anchor="middle" fill="#231f20" stroke="#231f20" stroke-width="0.15" textLength="11.2" lengthAdjust="spacingAndGlyphs">W0</text>
<text x="125.80" y="419.90" font-size="8.0" text-anchor="middle" fill="#231f20" stroke="#231f20" stroke-width="0.15" textLength="10.0" lengthAdjust="spacingAndGlyphs">W1</text>
<text x="169.00" y="419.90" font-size="8.0" text-anchor="middle" fill="#231f20" stroke="#231f20" stroke-width="0.15" textLength="11.2" lengthAdjust="spacingAndGlyphs">W0</text>
<text x="212.70" y="419.90" font-size="8.0" text-anchor="middle" fill="#231f20" stroke="#231f20" stroke-width="0.15" textLength="10.0" lengthAdjust="spacingAndGlyphs">W1</text>
<text x="255.40" y="419.90" font-size="8.0" text-anchor="middle" fill="#231f20" stroke="#231f20" stroke-width="0.15" textLength="11.2" lengthAdjust="spacingAndGlyphs">W0</text>
<text x="296.30" y="419.90" font-size="8.0" text-anchor="middle" fill="#231f20" stroke="#231f20" stroke-width="0.15" textLength="10.0" lengthAdjust="spacingAndGlyphs">W1</text>
<circle cx="81.10" cy="352.20" r="1.75" fill="#2f5289"/>
<circle cx="82.50" cy="366.90" r="1.75" fill="#a8192f"/>
<circle cx="81.30" cy="369.90" r="1.75" fill="#2f5289"/>
<circle cx="83.10" cy="374.50" r="1.75" fill="#2f5289"/>
<circle cx="88.30" cy="373.20" r="1.75" fill="#2f5289"/>
<circle cx="85.30" cy="375.10" r="1.75" fill="#2f5289"/>
<circle cx="80.30" cy="378.10" r="1.75" fill="#a8192f"/>
<circle cx="82.30" cy="377.10" r="1.75" fill="#2f5289"/>
<circle cx="87.80" cy="379.60" r="1.75" fill="#2f5289"/>
<circle cx="83.80" cy="383.10" r="1.75" fill="#2f5289"/>
<circle cx="85.10" cy="388.20" r="1.75" fill="#2f5289"/>
<circle cx="82.80" cy="389.50" r="1.75" fill="#2f5289"/>
<circle cx="79.40" cy="391.20" r="1.75" fill="#2f5289"/>
<circle cx="88.30" cy="390.70" r="1.75" fill="#a8192f"/>
<circle cx="84.60" cy="398.20" r="1.75" fill="#2f5289"/>
<circle cx="128.10" cy="317.20" r="1.75" fill="#a8192f"/>
<circle cx="126.70" cy="340.60" r="1.75" fill="#2f5289"/>
<circle cx="125.90" cy="341.60" r="1.75" fill="#2f5289"/>
<circle cx="124.10" cy="348.70" r="1.75" fill="#a8192f"/>
<circle cx="127.00" cy="350.10" r="1.75" fill="#a8192f"/>
<circle cx="126.70" cy="359.10" r="1.75" fill="#2f5289"/>
<circle cx="128.40" cy="358.10" r="1.75" fill="#2f5289"/>
<circle cx="126.40" cy="363.90" r="1.75" fill="#2f5289"/>
<circle cx="123.50" cy="367.80" r="1.75" fill="#2f5289"/>
<circle cx="127.70" cy="368.50" r="1.75" fill="#2f5289"/>
<circle cx="126.70" cy="370.60" r="1.75" fill="#a8192f"/>
<circle cx="129.30" cy="372.40" r="1.75" fill="#2f5289"/>
<circle cx="126.70" cy="372.80" r="1.75" fill="#a8192f"/>
<circle cx="126.40" cy="378.60" r="1.75" fill="#2f5289"/>
<circle cx="128.10" cy="380.00" r="1.75" fill="#a8192f"/>
<circle cx="128.80" cy="380.80" r="1.75" fill="#a8192f"/>
<circle cx="127.00" cy="398.40" r="1.75" fill="#a8192f"/>
<circle cx="172.30" cy="258.00" r="1.75" fill="#2f5289"/>
<circle cx="171.00" cy="351.10" r="1.75" fill="#a8192f"/>
<circle cx="167.60" cy="361.20" r="1.75" fill="#2f5289"/>
<circle cx="171.00" cy="361.80" r="1.75" fill="#2f5289"/>
<circle cx="166.20" cy="369.60" r="1.75" fill="#2f5289"/>
<circle cx="171.00" cy="369.60" r="1.75" fill="#2f5289"/>
<circle cx="168.50" cy="373.30" r="1.75" fill="#2f5289"/>
<circle cx="171.50" cy="373.00" r="1.75" fill="#2f5289"/>
<circle cx="172.50" cy="374.50" r="1.75" fill="#2f5289"/>
<circle cx="166.80" cy="378.70" r="1.75" fill="#2f5289"/>
<circle cx="171.00" cy="380.00" r="1.75" fill="#2f5289"/>
<circle cx="165.90" cy="383.70" r="1.75" fill="#2f5289"/>
<circle cx="169.60" cy="384.30" r="1.75" fill="#2f5289"/>
<circle cx="170.40" cy="390.00" r="1.75" fill="#a8192f"/>
<circle cx="168.20" cy="397.80" r="1.75" fill="#2f5289"/>
<circle cx="167.00" cy="374.00" r="1.75" fill="#a8192f"/>
<circle cx="212.00" cy="297.50" r="1.75" fill="#a8192f"/>
<circle cx="210.80" cy="299.10" r="1.75" fill="#2f5289"/>
<circle cx="213.40" cy="311.40" r="1.75" fill="#a8192f"/>
<circle cx="212.20" cy="325.00" r="1.75" fill="#2f5289"/>
<circle cx="213.00" cy="326.80" r="1.75" fill="#2f5289"/>
<circle cx="211.60" cy="328.20" r="1.75" fill="#2f5289"/>
<circle cx="215.10" cy="332.90" r="1.75" fill="#a8192f"/>
<circle cx="211.30" cy="341.60" r="1.75" fill="#a8192f"/>
<circle cx="212.50" cy="351.30" r="1.75" fill="#2f5289"/>
<circle cx="216.40" cy="354.40" r="1.75" fill="#2f5289"/>
<circle cx="215.10" cy="356.50" r="1.75" fill="#2f5289"/>
<circle cx="213.90" cy="359.10" r="1.75" fill="#2f5289"/>
<circle cx="213.40" cy="362.60" r="1.75" fill="#2f5289"/>
<circle cx="214.30" cy="360.00" r="1.75" fill="#a8192f"/>
<circle cx="208.70" cy="368.80" r="1.75" fill="#a8192f"/>
<circle cx="209.40" cy="399.40" r="1.75" fill="#a8192f"/>
<circle cx="253.20" cy="259.80" r="1.75" fill="#2f5289"/>
<circle cx="258.20" cy="355.60" r="1.75" fill="#a8192f"/>
<circle cx="258.80" cy="359.80" r="1.75" fill="#2f5289"/>
<circle cx="254.00" cy="364.00" r="1.75" fill="#2f5289"/>
<circle cx="258.00" cy="367.40" r="1.75" fill="#2f5289"/>
<circle cx="254.00" cy="373.00" r="1.75" fill="#2f5289"/>
<circle cx="256.00" cy="374.40" r="1.75" fill="#2f5289"/>
<circle cx="250.40" cy="375.80" r="1.75" fill="#a8192f"/>
<circle cx="253.20" cy="378.70" r="1.75" fill="#2f5289"/>
<circle cx="252.60" cy="381.50" r="1.75" fill="#2f5289"/>
<circle cx="254.00" cy="384.30" r="1.75" fill="#2f5289"/>
<circle cx="257.40" cy="386.50" r="1.75" fill="#2f5289"/>
<circle cx="258.80" cy="388.00" r="1.75" fill="#2f5289"/>
<circle cx="254.00" cy="390.00" r="1.75" fill="#a8192f"/>
<circle cx="253.20" cy="397.80" r="1.75" fill="#2f5289"/>
<circle cx="297.70" cy="294.90" r="1.75" fill="#a8192f"/>
<circle cx="293.50" cy="308.20" r="1.75" fill="#2f5289"/>
<circle cx="295.40" cy="317.30" r="1.75" fill="#a8192f"/>
<circle cx="296.80" cy="323.20" r="1.75" fill="#2f5289"/>
<circle cx="297.40" cy="330.20" r="1.75" fill="#a8192f"/>
<circle cx="294.00" cy="336.40" r="1.75" fill="#a8192f"/>
<circle cx="293.20" cy="337.80" r="1.75" fill="#2f5289"/>
<circle cx="296.30" cy="339.80" r="1.75" fill="#2f5289"/>
<circle cx="294.00" cy="357.50" r="1.75" fill="#2f5289"/>
<circle cx="296.80" cy="358.90" r="1.75" fill="#2f5289"/>
<circle cx="298.80" cy="364.00" r="1.75" fill="#2f5289"/>
<circle cx="295.40" cy="363.20" r="1.75" fill="#2f5289"/>
<circle cx="294.00" cy="372.50" r="1.75" fill="#a8192f"/>
<circle cx="298.20" cy="398.40" r="1.75" fill="#a8192f"/>
<circle cx="297.00" cy="355.00" r="1.75" fill="#a8192f"/>
<line x1="82.50" y1="379.50" x2="126.40" y2="363.90" stroke="#2f5289" stroke-width="1.35"/>
<line x1="82.60" y1="380.40" x2="131.00" y2="370.40" stroke="#a8192f" stroke-width="1.35"/>
<line x1="169.50" y1="373.20" x2="211.60" y2="334.60" stroke="#2f5289" stroke-width="1.35"/>
<line x1="169.50" y1="374.20" x2="213.00" y2="356.90" stroke="#a8192f" stroke-width="1.35"/>
<line x1="255.30" y1="377.20" x2="295.90" y2="356.10" stroke="#2f5289" stroke-width="1.35"/>
<line x1="255.30" y1="375.60" x2="295.90" y2="354.30" stroke="#a8192f" stroke-width="1.35"/>
<line x1="76.10" y1="379.00" x2="89.10" y2="379.00" stroke="#5d7aa6" stroke-width="1.4"/>
<line x1="74.90" y1="380.40" x2="89.30" y2="380.40" stroke="#c25a6c" stroke-width="1.4"/>
<line x1="118.40" y1="363.90" x2="132.40" y2="363.90" stroke="#5d7aa6" stroke-width="1.4"/>
<line x1="118.40" y1="370.40" x2="132.40" y2="370.40" stroke="#c25a6c" stroke-width="1.4"/>
<line x1="162.00" y1="373.00" x2="176.00" y2="373.00" stroke="#5d7aa6" stroke-width="1.4"/>
<line x1="162.00" y1="373.90" x2="176.00" y2="373.90" stroke="#c25a6c" stroke-width="1.4"/>
<line x1="204.60" y1="334.60" x2="218.60" y2="334.60" stroke="#5d7aa6" stroke-width="1.4"/>
<line x1="206.30" y1="356.90" x2="219.90" y2="356.90" stroke="#c25a6c" stroke-width="1.4"/>
<line x1="249.00" y1="376.50" x2="261.60" y2="376.50" stroke="#5d7aa6" stroke-width="1.4"/>
<line x1="249.00" y1="375.80" x2="261.60" y2="375.80" stroke="#c25a6c" stroke-width="1.4"/>
<line x1="289.20" y1="356.10" x2="302.60" y2="356.10" stroke="#5d7aa6" stroke-width="1.4"/>
<line x1="289.20" y1="354.70" x2="302.60" y2="354.70" stroke="#c25a6c" stroke-width="1.4"/>
<rect x="62.80" y="253.30" width="255.00" height="156.00" fill="none" stroke="#262626" stroke-width="1.35"/>
<line x1="148.00" y1="253.30" x2="148.00" y2="409.30" stroke="#262626" stroke-width="1.35"/>
<line x1="233.20" y1="253.30" x2="233.20" y2="409.30" stroke="#262626" stroke-width="1.35"/>
<line x1="59.80" y1="409.30" x2="62.80" y2="409.30" stroke="#262626" stroke-width="1.0"/>
<text x="56.90" y="412.30" font-size="8.5" text-anchor="end" fill="#231f20" stroke="#231f20" stroke-width="0.15" textLength="3.95" lengthAdjust="spacingAndGlyphs">0</text>
<line x1="59.80" y1="387.07" x2="62.80" y2="387.07" stroke="#262626" stroke-width="1.0"/>
<text x="56.90" y="390.07" font-size="8.5" text-anchor="end" fill="#231f20" stroke="#231f20" stroke-width="0.15" textLength="11.850000000000001" lengthAdjust="spacingAndGlyphs">500</text>
<line x1="59.80" y1="364.84" x2="62.80" y2="364.84" stroke="#262626" stroke-width="1.0"/>
<text x="56.90" y="367.84" font-size="8.5" text-anchor="end" fill="#231f20" stroke="#231f20" stroke-width="0.15" textLength="15.8" lengthAdjust="spacingAndGlyphs">1000</text>
<line x1="59.80" y1="342.61" x2="62.80" y2="342.61" stroke="#262626" stroke-width="1.0"/>
<text x="56.90" y="345.61" font-size="8.5" text-anchor="end" fill="#231f20" stroke="#231f20" stroke-width="0.15" textLength="15.8" lengthAdjust="spacingAndGlyphs">1500</text>
<line x1="59.80" y1="320.39" x2="62.80" y2="320.39" stroke="#262626" stroke-width="1.0"/>
<text x="56.90" y="323.39" font-size="8.5" text-anchor="end" fill="#231f20" stroke="#231f20" stroke-width="0.15" textLength="15.8" lengthAdjust="spacingAndGlyphs">2000</text>
<line x1="59.80" y1="298.16" x2="62.80" y2="298.16" stroke="#262626" stroke-width="1.0"/>
<text x="56.90" y="301.16" font-size="8.5" text-anchor="end" fill="#231f20" stroke="#231f20" stroke-width="0.15" textLength="15.8" lengthAdjust="spacingAndGlyphs">2500</text>
<line x1="59.80" y1="275.93" x2="62.80" y2="275.93" stroke="#262626" stroke-width="1.0"/>
<text x="56.90" y="278.93" font-size="8.5" text-anchor="end" fill="#231f20" stroke="#231f20" stroke-width="0.15" textLength="15.8" lengthAdjust="spacingAndGlyphs">3000</text>
<line x1="59.80" y1="253.70" x2="62.80" y2="253.70" stroke="#262626" stroke-width="1.0"/>
<text x="56.90" y="256.70" font-size="8.5" text-anchor="end" fill="#231f20" stroke="#231f20" stroke-width="0.15" textLength="15.8" lengthAdjust="spacingAndGlyphs">3500</text>
<line x1="61.20" y1="398.19" x2="62.80" y2="398.19" stroke="#262626" stroke-width="0.9"/>
<line x1="61.20" y1="375.96" x2="62.80" y2="375.96" stroke="#262626" stroke-width="0.9"/>
<line x1="61.20" y1="353.73" x2="62.80" y2="353.73" stroke="#262626" stroke-width="0.9"/>
<line x1="61.20" y1="331.50" x2="62.80" y2="331.50" stroke="#262626" stroke-width="0.9"/>
<line x1="61.20" y1="309.27" x2="62.80" y2="309.27" stroke="#262626" stroke-width="0.9"/>
<line x1="61.20" y1="287.04" x2="62.80" y2="287.04" stroke="#262626" stroke-width="0.9"/>
<line x1="61.20" y1="264.81" x2="62.80" y2="264.81" stroke="#262626" stroke-width="0.9"/>
<text x="0" y="0" font-size="10.3" stroke="#231f20" stroke-width="0.15" text-anchor="middle" fill="#231f20" textLength="43.8" lengthAdjust="spacingAndGlyphs" transform="translate(32.40,331.00) rotate(-90)">FOXP3 MFI</text>
<line x1="128.30" y1="429.00" x2="142.50" y2="429.00" stroke="#4a6a9a" stroke-width="1.4"/>
<text x="145.80" y="431.10" font-size="8.2" text-anchor="start" fill="#231f20" stroke="#231f20" stroke-width="0.15" textLength="34.2" lengthAdjust="spacingAndGlyphs">Responder</text>
<line x1="186.90" y1="429.00" x2="201.20" y2="429.00" stroke="#b03048" stroke-width="1.4"/>
<text x="204.30" y="431.10" font-size="8.2" text-anchor="start" fill="#231f20" stroke="#231f20" stroke-width="0.15" textLength="48.0" lengthAdjust="spacingAndGlyphs">Non-responder</text>
<text x="105.30" y="464.60" font-size="10.3" text-anchor="middle" fill="#231f20" stroke="#231f20" stroke-width="0.15" textLength="22.6" lengthAdjust="spacingAndGlyphs">Naïve</text>
<text x="189.60" y="464.60" font-size="10.3" text-anchor="middle" fill="#231f20" stroke="#231f20" stroke-width="0.15" textLength="13.2" lengthAdjust="spacingAndGlyphs">CM</text>
<text x="274.30" y="464.60" font-size="10.3" text-anchor="middle" fill="#231f20" stroke="#231f20" stroke-width="0.15" textLength="12.4" lengthAdjust="spacingAndGlyphs">EM</text>
<text x="105.90" y="512.30" font-size="7.4" text-anchor="middle" fill="#231f20" stroke="#231f20" stroke-width="0.15" textLength="11.2" lengthAdjust="spacingAndGlyphs">n.s.</text>
<text x="188.90" y="512.30" font-size="7.4" text-anchor="middle" fill="#231f20" stroke="#231f20" stroke-width="0.15" textLength="24.0" lengthAdjust="spacingAndGlyphs">p = 0.01</text>
<text x="274.70" y="512.30" font-size="7.4" text-anchor="middle" fill="#231f20" stroke="#231f20" stroke-width="0.15" textLength="11.2" lengthAdjust="spacingAndGlyphs">n.s.</text>
<text x="83.70" y="636.60" font-size="8.0" text-anchor="middle" fill="#231f20" stroke="#231f20" stroke-width="0.15" textLength="11.8" lengthAdjust="spacingAndGlyphs">W1</text>
<text x="124.30" y="636.60" font-size="8.0" text-anchor="middle" fill="#231f20" stroke="#231f20" stroke-width="0.15" textLength="15.2" lengthAdjust="spacingAndGlyphs">W12</text>
<text x="168.10" y="636.60" font-size="8.0" text-anchor="middle" fill="#231f20" stroke="#231f20" stroke-width="0.15" textLength="11.8" lengthAdjust="spacingAndGlyphs">W1</text>
<text x="209.00" y="636.60" font-size="8.0" text-anchor="middle" fill="#231f20" stroke="#231f20" stroke-width="0.15" textLength="15.2" lengthAdjust="spacingAndGlyphs">W12</text>
<text x="253.00" y="636.60" font-size="8.0" text-anchor="middle" fill="#231f20" stroke="#231f20" stroke-width="0.15" textLength="11.8" lengthAdjust="spacingAndGlyphs">W1</text>
<text x="295.00" y="636.60" font-size="8.0" text-anchor="middle" fill="#231f20" stroke="#231f20" stroke-width="0.15" textLength="15.2" lengthAdjust="spacingAndGlyphs">W12</text>
<circle cx="83.70" cy="527.30" r="1.75" fill="#2f5289"/>
<circle cx="83.40" cy="531.50" r="1.75" fill="#2f5289"/>
<circle cx="83.70" cy="544.30" r="1.75" fill="#2f5289"/>
<circle cx="84.30" cy="547.00" r="1.75" fill="#a8192f"/>
<circle cx="83.40" cy="549.20" r="1.75" fill="#a8192f"/>
<circle cx="82.80" cy="553.80" r="1.75" fill="#a8192f"/>
<circle cx="80.60" cy="575.10" r="1.75" fill="#2f5289"/>
<circle cx="83.40" cy="578.80" r="1.75" fill="#a8192f"/>
<circle cx="82.30" cy="581.20" r="1.75" fill="#2f5289"/>
<circle cx="87.00" cy="583.90" r="1.75" fill="#2f5289"/>
<circle cx="82.30" cy="585.40" r="1.75" fill="#2f5289"/>
<circle cx="84.60" cy="592.10" r="1.75" fill="#2f5289"/>
<circle cx="87.00" cy="592.10" r="1.75" fill="#2f5289"/>
<circle cx="81.50" cy="594.50" r="1.75" fill="#a8192f"/>
<circle cx="84.60" cy="605.80" r="1.75" fill="#2f5289"/>
<circle cx="87.40" cy="605.40" r="1.75" fill="#a8192f"/>
<circle cx="81.50" cy="608.00" r="1.75" fill="#a8192f"/>
<circle cx="84.30" cy="608.50" r="1.75" fill="#a8192f"/>
<circle cx="86.50" cy="615.80" r="1.75" fill="#a8192f"/>
<circle cx="128.20" cy="473.70" r="1.75" fill="#a8192f"/>
<circle cx="128.80" cy="490.20" r="1.75" fill="#2f5289"/>
<circle cx="127.00" cy="494.70" r="1.75" fill="#a8192f"/>
<circle cx="129.60" cy="499.30" r="1.75" fill="#2f5289"/>
<circle cx="127.00" cy="504.50" r="1.75" fill="#2f5289"/>
<circle cx="127.80" cy="508.00" r="1.75" fill="#2f5289"/>
<circle cx="125.50" cy="516.10" r="1.75" fill="#2f5289"/>
<circle cx="126.70" cy="520.50" r="1.75" fill="#a8192f"/>
<circle cx="125.20" cy="521.20" r="1.75" fill="#2f5289"/>
<circle cx="131.30" cy="521.70" r="1.75" fill="#a8192f"/>
<circle cx="125.90" cy="530.80" r="1.75" fill="#a8192f"/>
<circle cx="125.90" cy="538.90" r="1.75" fill="#a8192f"/>
<circle cx="128.20" cy="540.70" r="1.75" fill="#2f5289"/>
<circle cx="130.30" cy="542.30" r="1.75" fill="#2f5289"/>
<circle cx="127.00" cy="543.00" r="1.75" fill="#2f5289"/>
<circle cx="124.70" cy="547.10" r="1.75" fill="#a8192f"/>
<circle cx="130.00" cy="550.60" r="1.75" fill="#2f5289"/>
<circle cx="123.90" cy="554.50" r="1.75" fill="#a8192f"/>
<circle cx="120.80" cy="559.80" r="1.75" fill="#2f5289"/>
<circle cx="123.90" cy="561.10" r="1.75" fill="#2f5289"/>
<circle cx="126.30" cy="563.80" r="1.75" fill="#2f5289"/>
<circle cx="124.80" cy="572.60" r="1.75" fill="#2f5289"/>
<circle cx="129.00" cy="589.00" r="1.75" fill="#2f5289"/>
<circle cx="127.90" cy="600.00" r="1.75" fill="#2f5289"/>
<circle cx="165.40" cy="576.00" r="1.75" fill="#2f5289"/>
<circle cx="167.30" cy="600.10" r="1.75" fill="#a8192f"/>
<circle cx="171.30" cy="601.10" r="1.75" fill="#2f5289"/>
<circle cx="168.00" cy="605.40" r="1.75" fill="#a8192f"/>
<circle cx="169.50" cy="605.90" r="1.75" fill="#a8192f"/>
<circle cx="165.10" cy="610.20" r="1.75" fill="#2f5289"/>
<circle cx="167.30" cy="609.20" r="1.75" fill="#2f5289"/>
<circle cx="164.80" cy="613.10" r="1.75" fill="#a8192f"/>
<circle cx="171.20" cy="613.50" r="1.75" fill="#a8192f"/>
<circle cx="168.70" cy="611.60" r="1.75" fill="#2f5289"/>
<circle cx="170.20" cy="617.90" r="1.75" fill="#a8192f"/>
<circle cx="169.20" cy="619.90" r="1.75" fill="#2f5289"/>
<circle cx="169.70" cy="620.80" r="1.75" fill="#2f5289"/>
<circle cx="208.80" cy="536.90" r="1.75" fill="#a8192f"/>
<circle cx="205.90" cy="552.80" r="1.75" fill="#a8192f"/>
<circle cx="210.60" cy="558.60" r="1.75" fill="#2f5289"/>
<circle cx="211.40" cy="562.50" r="1.75" fill="#2f5289"/>
<circle cx="209.20" cy="564.70" r="1.75" fill="#a8192f"/>
<circle cx="213.50" cy="567.90" r="1.75" fill="#a8192f"/>
<circle cx="208.20" cy="571.20" r="1.75" fill="#2f5289"/>
<circle cx="211.10" cy="573.40" r="1.75" fill="#2f5289"/>
<circle cx="207.30" cy="579.40" r="1.75" fill="#a8192f"/>
<circle cx="208.80" cy="580.30" r="1.75" fill="#2f5289"/>
<circle cx="209.60" cy="582.70" r="1.75" fill="#2f5289"/>
<circle cx="212.50" cy="584.60" r="1.75" fill="#a8192f"/>
<circle cx="208.20" cy="587.10" r="1.75" fill="#2f5289"/>
<circle cx="208.80" cy="590.00" r="1.75" fill="#2f5289"/>
<circle cx="209.20" cy="593.30" r="1.75" fill="#2f5289"/>
<circle cx="212.80" cy="592.40" r="1.75" fill="#a8192f"/>
<circle cx="206.70" cy="600.80" r="1.75" fill="#2f5289"/>
<circle cx="208.80" cy="602.00" r="1.75" fill="#2f5289"/>
<circle cx="206.30" cy="610.20" r="1.75" fill="#2f5289"/>
<circle cx="211.40" cy="608.50" r="1.75" fill="#2f5289"/>
<circle cx="209.90" cy="616.40" r="1.75" fill="#2f5289"/>
<circle cx="212.10" cy="619.90" r="1.75" fill="#2f5289"/>
<circle cx="255.50" cy="578.20" r="1.75" fill="#2f5289"/>
<circle cx="248.80" cy="593.70" r="1.75" fill="#2f5289"/>
<circle cx="249.90" cy="598.10" r="1.75" fill="#2f5289"/>
<circle cx="250.90" cy="600.00" r="1.75" fill="#2f5289"/>
<circle cx="249.60" cy="602.40" r="1.75" fill="#2f5289"/>
<circle cx="252.00" cy="603.20" r="1.75" fill="#2f5289"/>
<circle cx="252.80" cy="603.20" r="1.75" fill="#a8192f"/>
<circle cx="254.40" cy="604.50" r="1.75" fill="#a8192f"/>
<circle cx="251.20" cy="605.60" r="1.75" fill="#a8192f"/>
<circle cx="248.00" cy="608.00" r="1.75" fill="#2f5289"/>
<circle cx="254.40" cy="608.80" r="1.75" fill="#2f5289"/>
<circle cx="248.00" cy="612.00" r="1.75" fill="#2f5289"/>
<circle cx="252.00" cy="612.80" r="1.75" fill="#a8192f"/>
<circle cx="254.70" cy="613.30" r="1.75" fill="#a8192f"/>
<circle cx="252.00" cy="618.40" r="1.75" fill="#2f5289"/>
<circle cx="250.90" cy="619.50" r="1.75" fill="#2f5289"/>
<circle cx="248.30" cy="620.30" r="1.75" fill="#a8192f"/>
<circle cx="295.90" cy="534.10" r="1.75" fill="#a8192f"/>
<circle cx="290.80" cy="557.40" r="1.75" fill="#a8192f"/>
<circle cx="293.00" cy="556.60" r="1.75" fill="#a8192f"/>
<circle cx="294.30" cy="560.40" r="1.75" fill="#2f5289"/>
<circle cx="298.60" cy="560.90" r="1.75" fill="#2f5289"/>
<circle cx="291.10" cy="563.00" r="1.75" fill="#2f5289"/>
<circle cx="293.20" cy="565.20" r="1.75" fill="#2f5289"/>
<circle cx="290.80" cy="566.80" r="1.75" fill="#2f5289"/>
<circle cx="291.10" cy="570.50" r="1.75" fill="#a8192f"/>
<circle cx="294.00" cy="571.30" r="1.75" fill="#2f5289"/>
<circle cx="292.70" cy="572.90" r="1.75" fill="#2f5289"/>
<circle cx="295.10" cy="572.90" r="1.75" fill="#2f5289"/>
<circle cx="293.50" cy="575.30" r="1.75" fill="#2f5289"/>
<circle cx="294.30" cy="577.40" r="1.75" fill="#2f5289"/>
<circle cx="294.30" cy="586.00" r="1.75" fill="#a8192f"/>
<circle cx="296.20" cy="586.00" r="1.75" fill="#a8192f"/>
<circle cx="295.10" cy="588.10" r="1.75" fill="#a8192f"/>
<circle cx="290.80" cy="590.50" r="1.75" fill="#2f5289"/>
<circle cx="291.90" cy="589.70" r="1.75" fill="#2f5289"/>
<circle cx="293.50" cy="594.50" r="1.75" fill="#2f5289"/>
<circle cx="290.80" cy="601.30" r="1.75" fill="#2f5289"/>
<circle cx="295.60" cy="603.20" r="1.75" fill="#2f5289"/>
<circle cx="292.70" cy="610.00" r="1.75" fill="#2f5289"/>
<circle cx="292.40" cy="614.40" r="1.75" fill="#2f5289"/>
<line x1="84.00" y1="584.80" x2="126.00" y2="541.70" stroke="#2f5289" stroke-width="1.35"/>
<line x1="84.00" y1="594.50" x2="125.50" y2="526.70" stroke="#a8192f" stroke-width="1.35"/>
<line x1="168.50" y1="607.50" x2="209.00" y2="584.60" stroke="#2f5289" stroke-width="1.35"/>
<line x1="168.50" y1="608.50" x2="209.00" y2="566.60" stroke="#a8192f" stroke-width="1.35"/>
<line x1="252.50" y1="609.00" x2="293.70" y2="574.20" stroke="#2f5289" stroke-width="1.35"/>
<line x1="252.50" y1="607.60" x2="293.70" y2="568.10" stroke="#a8192f" stroke-width="1.35"/>
<line x1="77.30" y1="584.80" x2="90.10" y2="584.80" stroke="#5d7aa6" stroke-width="1.4"/>
<line x1="77.30" y1="594.50" x2="91.30" y2="594.50" stroke="#c25a6c" stroke-width="1.4"/>
<line x1="118.00" y1="541.70" x2="132.00" y2="541.70" stroke="#5d7aa6" stroke-width="1.4"/>
<line x1="118.00" y1="526.70" x2="132.00" y2="526.70" stroke="#c25a6c" stroke-width="1.4"/>
<line x1="161.00" y1="608.30" x2="175.00" y2="608.30" stroke="#5d7aa6" stroke-width="1.4"/>
<line x1="161.00" y1="608.50" x2="175.00" y2="608.50" stroke="#c25a6c" stroke-width="1.4"/>
<line x1="201.50" y1="584.60" x2="215.70" y2="584.60" stroke="#5d7aa6" stroke-width="1.4"/>
<line x1="201.50" y1="566.60" x2="215.70" y2="566.60" stroke="#c25a6c" stroke-width="1.4"/>
<line x1="245.50" y1="608.00" x2="259.50" y2="608.00" stroke="#5d7aa6" stroke-width="1.4"/>
<line x1="245.50" y1="607.60" x2="259.50" y2="607.60" stroke="#c25a6c" stroke-width="1.4"/>
<line x1="286.70" y1="574.20" x2="300.70" y2="574.20" stroke="#5d7aa6" stroke-width="1.4"/>
<line x1="286.70" y1="568.10" x2="300.70" y2="568.10" stroke="#c25a6c" stroke-width="1.4"/>
<rect x="63.40" y="469.70" width="250.80" height="155.80" fill="none" stroke="#262626" stroke-width="1.35"/>
<line x1="146.70" y1="469.70" x2="146.70" y2="625.50" stroke="#262626" stroke-width="1.35"/>
<line x1="231.20" y1="469.70" x2="231.20" y2="625.50" stroke="#262626" stroke-width="1.35"/>
<line x1="60.40" y1="617.30" x2="63.40" y2="617.30" stroke="#262626" stroke-width="1.0"/>
<text x="56.90" y="620.30" font-size="8.5" text-anchor="end" fill="#231f20" stroke="#231f20" stroke-width="0.15" textLength="16.0" lengthAdjust="spacingAndGlyphs">2000</text>
<line x1="60.40" y1="600.46" x2="63.40" y2="600.46" stroke="#262626" stroke-width="1.0"/>
<text x="56.90" y="603.46" font-size="8.5" text-anchor="end" fill="#231f20" stroke="#231f20" stroke-width="0.15" textLength="16.0" lengthAdjust="spacingAndGlyphs">4000</text>
<line x1="60.40" y1="583.62" x2="63.40" y2="583.62" stroke="#262626" stroke-width="1.0"/>
<text x="56.90" y="586.62" font-size="8.5" text-anchor="end" fill="#231f20" stroke="#231f20" stroke-width="0.15" textLength="16.0" lengthAdjust="spacingAndGlyphs">6000</text>
<line x1="60.40" y1="566.79" x2="63.40" y2="566.79" stroke="#262626" stroke-width="1.0"/>
<text x="56.90" y="569.79" font-size="8.5" text-anchor="end" fill="#231f20" stroke="#231f20" stroke-width="0.15" textLength="16.0" lengthAdjust="spacingAndGlyphs">8000</text>
<line x1="60.40" y1="549.95" x2="63.40" y2="549.95" stroke="#262626" stroke-width="1.0"/>
<text x="56.90" y="552.95" font-size="8.5" text-anchor="end" fill="#231f20" stroke="#231f20" stroke-width="0.15" textLength="20.0" lengthAdjust="spacingAndGlyphs">10000</text>
<line x1="60.40" y1="533.11" x2="63.40" y2="533.11" stroke="#262626" stroke-width="1.0"/>
<text x="56.90" y="536.11" font-size="8.5" text-anchor="end" fill="#231f20" stroke="#231f20" stroke-width="0.15" textLength="20.0" lengthAdjust="spacingAndGlyphs">12000</text>
<line x1="60.40" y1="516.27" x2="63.40" y2="516.27" stroke="#262626" stroke-width="1.0"/>
<text x="56.90" y="519.27" font-size="8.5" text-anchor="end" fill="#231f20" stroke="#231f20" stroke-width="0.15" textLength="20.0" lengthAdjust="spacingAndGlyphs">14000</text>
<line x1="60.40" y1="499.44" x2="63.40" y2="499.44" stroke="#262626" stroke-width="1.0"/>
<text x="56.90" y="502.44" font-size="8.5" text-anchor="end" fill="#231f20" stroke="#231f20" stroke-width="0.15" textLength="20.0" lengthAdjust="spacingAndGlyphs">16000</text>
<line x1="60.40" y1="482.60" x2="63.40" y2="482.60" stroke="#262626" stroke-width="1.0"/>
<text x="56.90" y="485.60" font-size="8.5" text-anchor="end" fill="#231f20" stroke="#231f20" stroke-width="0.15" textLength="20.0" lengthAdjust="spacingAndGlyphs">18000</text>
<line x1="61.80" y1="625.72" x2="63.40" y2="625.72" stroke="#262626" stroke-width="0.9"/>
<line x1="61.80" y1="608.88" x2="63.40" y2="608.88" stroke="#262626" stroke-width="0.9"/>
<line x1="61.80" y1="592.04" x2="63.40" y2="592.04" stroke="#262626" stroke-width="0.9"/>
<line x1="61.80" y1="575.21" x2="63.40" y2="575.21" stroke="#262626" stroke-width="0.9"/>
<line x1="61.80" y1="558.37" x2="63.40" y2="558.37" stroke="#262626" stroke-width="0.9"/>
<line x1="61.80" y1="541.53" x2="63.40" y2="541.53" stroke="#262626" stroke-width="0.9"/>
<line x1="61.80" y1="524.69" x2="63.40" y2="524.69" stroke="#262626" stroke-width="0.9"/>
<line x1="61.80" y1="507.86" x2="63.40" y2="507.86" stroke="#262626" stroke-width="0.9"/>
<line x1="61.80" y1="491.02" x2="63.40" y2="491.02" stroke="#262626" stroke-width="0.9"/>
<line x1="61.80" y1="474.18" x2="63.40" y2="474.18" stroke="#262626" stroke-width="0.9"/>
<text x="0" y="0" font-size="10.0" stroke="#231f20" stroke-width="0.15" text-anchor="middle" fill="#231f20" textLength="40.0" lengthAdjust="spacingAndGlyphs" transform="translate(27.80,547.70) rotate(-90)">BCL-2 MFI</text>
<text x="140.40" y="649.70" font-size="9.4" text-anchor="start" fill="#231f20" stroke="#231f20" stroke-width="0.15" textLength="96.9" lengthAdjust="spacingAndGlyphs">Time after IL-2 initiation</text>
<rect x="0" y="0" width="520" height="1.2" fill="#000"/>
<rect x="518.8" y="0" width="1.2" height="657" fill="#000"/>
<rect x="0" y="0" width="1.7" height="657" fill="#4a4a4a"/>
<rect x="0" y="655" width="520" height="2" fill="#4e4e4e"/>
</svg>
</body></html>
